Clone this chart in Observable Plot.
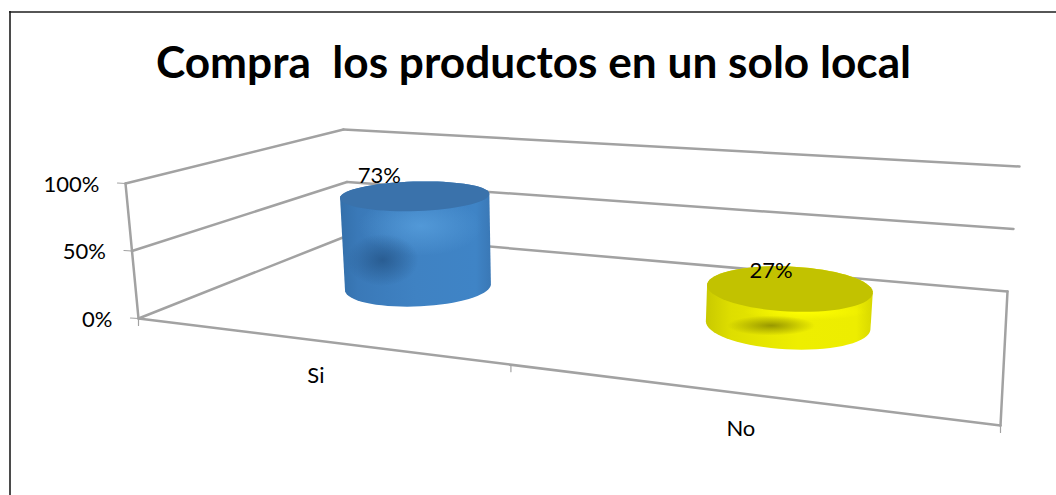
<!DOCTYPE html>
<html>
<head>
<meta charset="utf-8">
<script src="https://cdn.jsdelivr.net/npm/d3@7"></script>
<script src="https://cdn.jsdelivr.net/npm/@observablehq/plot@0.6"></script>
<style>
  html, body { margin: 0; padding: 0; background: #fff; }
  svg { display: block; }
</style>
</head>
<body>
<div id="chart"></div>
<script>
// Survey result
const titleText = "Compra\u00a0 los productos en un solo local";
const categories = ["Si", "No"];
const shares = [73, 27];
const valueTicks = [0, 50, 100];

// Perspective box of the 3D chart: floor and ceiling corners on the page
// in the order front-left, front-right, back-right, back-left.
const floorCorners = [[138, 318], [1000, 425], [1007, 291], [350, 234]];
const ceilingCorners = [[125, 183], [1012, 272], [1019, 166], [343, 129]];
const FONT = "Lato, Carlito, sans-serif";
const GRID = "#a2a2a2";

function homography(q) {
  const [[x0, y0], [x1, y1], [x2, y2], [x3, y3]] = q;
  const dx1 = x1 - x2, dx2 = x3 - x2, dx3 = x0 - x1 + x2 - x3;
  const dy1 = y1 - y2, dy2 = y3 - y2, dy3 = y0 - y1 + y2 - y3;
  const det = dx1 * dy2 - dx2 * dy1;
  const g = (dx3 * dy2 - dx2 * dy3) / det, h = (dx1 * dy3 - dx3 * dy1) / det;
  const a = x1 - x0 + g * x1, b = x3 - x0 + h * x3;
  const d = y1 - y0 + g * y1, e = y3 - y0 + h * y3;
  return (u, v) => {
    const k = g * u + h * v + 1;
    return [(a * u + b * v + x0) / k, (d * u + e * v + y0) / k];
  };
}
const onFloor = homography(floorCorners);

// Height vector of the box at each floor corner, blended across the floor.
const rise = floorCorners.map((f, i) => [ceilingCorners[i][0] - f[0], ceilingCorners[i][1] - f[1]]);
const riseAt = (u, v) => [0, 1].map((k) =>
  (1 - v) * ((1 - u) * rise[0][k] + u * rise[1][k]) + v * ((1 - u) * rise[3][k] + u * rise[2][k]));

// u: along the categories, v: into the depth, value: percent of the axis.
function project(u, v, value) {
  const t = value / 100;
  const [fx, fy] = onFloor(u, v), [rx, ry] = riseAt(u, v);
  return [fx + rx * t, fy + ry * t];
}

const segment = (a, b) => [a, b];
const gridSegments = valueTicks.flatMap((t) => [
  segment(project(0, 0, t), project(0, 1, t)),
  segment(project(0, 1, t), project(1, 1, t))
]);
const floorSegments = [
  segment(project(0, 0, 0), project(1, 0, 0)),
  segment(project(1, 0, 0), project(1, 1, 0)),
  segment(project(0, 0, 100), project(0, 0, 0))
];
const tickSegments = [
  ...valueTicks.map((t) => { const p = project(0, 0, t); return segment(p, [p[0] - 8, p[1] - 0.5]); }),
  ...[0, 0.5, 1].map((u) => { const p = project(u, 0, 0); return segment(p, [p[0], p[1] + 7]); })
];

const bandCenter = (i) => (i + 0.5) / categories.length;
const radiusU = 0.0975, radiusV = 0.2, depthCenter = 0.51, bandShift = 0.003;
const circle = (i, value) => d3.range(0, 73).map((k) => {
  const a = (k / 72) * 2 * Math.PI;
  return project(bandCenter(i) + bandShift + radiusU * Math.cos(a), depthCenter + radiusV * Math.sin(a), value);
});
const columnCenter = (i, value) => project(bandCenter(i) + bandShift, depthCenter, value);

const palettes = [
  { side: "url(#blueSide)", cap: "#3a72ab", glow: "url(#blueGlow)", shade: "url(#blueShade)" },
  { side: "url(#yellowSide)", cap: "#c2c200", glow: "url(#yellowGlow)", shade: "url(#yellowShade)" }
];

// Soft blobs on the cylinder walls, relative to the base centre, as [dx, dy, rx, ry].
const glowSpots = [[2, -60, 62, 30], [18, -12, 62, 9]];
const shadeSpots = [[-36, -26, 36, 26], [-16, 2, 44, 10]];
const labelNudge = [[-36, -19], [-18, -16]];
const categoryNudge = [3, 36];

const ellipse = ([cx, cy], [dx, dy, rx, ry]) => d3.range(0, 41).map((k) => {
  const a = (k / 40) * 2 * Math.PI;
  return [cx + dx + rx * Math.cos(a), cy + dy + ry * Math.sin(a)];
});

function gradients() {
  const defs = d3.create("svg:defs");
  const linear = (id, stops) => {
    const g = defs.append("linearGradient").attr("id", id);
    stops.forEach(([o, c]) => g.append("stop").attr("offset", o).attr("stop-color", c));
  };
  const radial = (id, color, opacity) => {
    const g = defs.append("radialGradient").attr("id", id);
    g.append("stop").attr("offset", 0).attr("stop-color", color).attr("stop-opacity", opacity);
    g.append("stop").attr("offset", 1).attr("stop-color", color).attr("stop-opacity", 0);
  };
  linear("blueSide", [[0, "#3470ab"], [0.12, "#3a79b8"], [0.5, "#3f82c3"], [0.9, "#3f84c6"], [1, "#3a78b6"]]);
  linear("yellowSide", [[0, "#c9c900"], [0.15, "#dede00"], [0.55, "#eeee00"], [0.9, "#eded00"], [1, "#d8d800"]]);
  radial("blueGlow", "#5aa2e0", 0.7);
  radial("blueShade", "#214f80", 0.7);
  radial("yellowGlow", "#ffff00", 1);
  radial("yellowShade", "#848400", 0.8);
  return defs.node();
}

const lineMark = (segments, options) => segments.map((s) =>
  Plot.line(s, { x: (d) => d[0], y: (d) => d[1], ...options }));

const shape = (pts, options) =>
  Plot.line(pts, { x: (d) => d[0], y: (d) => d[1], stroke: "none", ...options });

const cylinders = categories.flatMap((_, i) => {
  const base = circle(i, 0), top = circle(i, shares[i]);
  const pal = palettes[i];
  const hull = d3.polygonHull([...base, ...top]);
  return [
    shape([...hull, hull[0]], { fill: pal.side }),
    shape(ellipse(columnCenter(i, 0), glowSpots[i]), { fill: pal.glow }),
    shape(ellipse(columnCenter(i, 0), shadeSpots[i]), { fill: pal.shade }),
    shape(top, { fill: pal.cap })
  ];
});

const chart = Plot.plot({
  width: 1056,
  height: 495,
  margin: 0,
  style: { background: "#fff", fontFamily: FONT },
  x: { domain: [0, 1056], range: [0, 1056], axis: null },
  y: { domain: [0, 495], range: [0, 495], axis: null },
  marks: [
    gradients,
    // Only the top and left edges of the chart border fall inside the page.
    Plot.ruleY([11.5], { x1: 9, x2: 1056, stroke: "#1e1e1e", strokeWidth: 1.6 }),
    Plot.ruleX([9.5], { y1: 11, y2: 495, stroke: "#1e1e1e", strokeWidth: 1.6 }),
    Plot.text([titleText], {
      x: () => 533, y: () => 63, text: (d) => d,
      fontSize: 44.2, fontWeight: 700, fill: "#000", fontFamily: FONT
    }),
    ...lineMark(gridSegments, { stroke: GRID, strokeWidth: 2.5 }),
    ...lineMark(floorSegments, { stroke: GRID, strokeWidth: 2.5 }),
    ...lineMark(tickSegments, { stroke: GRID, strokeWidth: 1.2 }),
    ...cylinders,
    Plot.text(valueTicks, {
      x: (t) => project(0, 0, t)[0] - 26,
      y: (t) => project(0, 0, t)[1] + 1,
      text: (t) => `${t}%`,
      textAnchor: "end", fontSize: 22, fill: "#000", fontFamily: FONT
    }),
    Plot.text(categories, {
      x: (_, i) => project(bandCenter(i), 0, 0)[0] + categoryNudge[0],
      y: (_, i) => project(bandCenter(i), 0, 0)[1] + categoryNudge[1],
      text: (d) => d,
      fontSize: 22, fill: "#000", fontFamily: FONT
    }),
    Plot.text(shares, {
      x: (v, i) => columnCenter(i, v)[0] + labelNudge[i][0],
      y: (v, i) => columnCenter(i, v)[1] + labelNudge[i][1],
      text: (v) => `${v}%`,
      fontSize: 22, fill: "#000", fontFamily: FONT
    })
  ]
});
document.getElementById("chart").append(chart);
</script>
</body>
</html>
